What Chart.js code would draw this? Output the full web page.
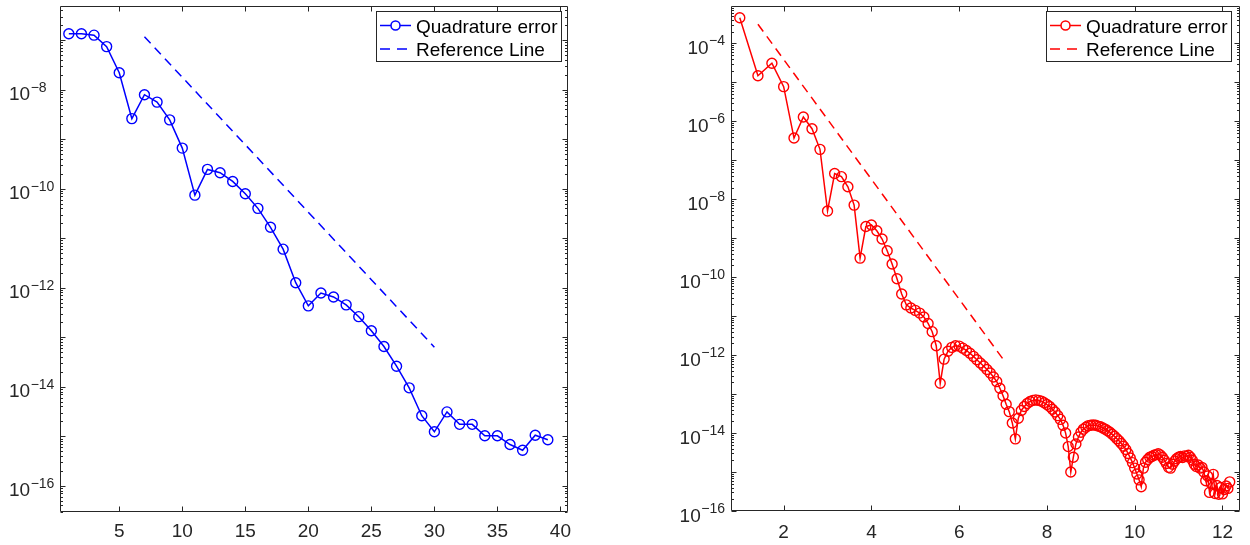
<!DOCTYPE html>
<html>
<head>
<meta charset="utf-8">
<script src="https://cdn.jsdelivr.net/npm/chart.js@4.4.1/dist/chart.umd.min.js"></script>
<style>
  html, body { margin: 0; padding: 0; background: #fff; }
  #wrap { position: relative; width: 1250px; height: 545px; }
  canvas { position: absolute; top: 0; }
  #left { left: 0; }
  #right { left: 625px; }
</style>
</head>
<body>
<div id="wrap">
  <canvas id="left" width="625" height="545"></canvas>
  <canvas id="right" width="625" height="545"></canvas>
</div>
<script>
// left panel: error vs n
const leftN = [1, 2, 3, 4, 5, 6, 7, 8, 9, 10, 11, 12, 13, 14, 15, 16, 17, 18, 19, 20,
  21, 22, 23, 24, 25, 26, 27, 28, 29, 30, 31, 32, 33, 34, 35, 36, 37, 38, 39];
const leftErr = [1.35e-7, 1.35e-7, 1.26e-7, 7.4e-8, 2.2e-8, 2.6e-9, 7.9e-9, 5.6e-9, 2.45e-9, 6.6e-10,
  7.4e-11, 2.45e-10, 2.1e-10, 1.4e-10, 7.9e-11, 4.0e-11, 1.66e-11, 6.0e-12, 1.26e-12, 4.3e-13,
  7.8e-13, 6.5e-13, 4.5e-13, 2.6e-13, 1.35e-13, 6.5e-14, 2.6e-14, 9.5e-15, 2.6e-15, 1.23e-15,
  3.1e-15, 1.74e-15, 1.74e-15, 1.02e-15, 1.02e-15, 6.8e-16, 5.2e-16, 1.05e-15, 8.5e-16];
const leftRefX = [7, 30];
const leftRefY = [1.17e-7, 6.3e-14];
const leftXTicks = [5, 10, 15, 20, 25, 30, 35, 40];
const leftYExps = [-16, -14, -12, -10, -8];

// right panel
const rightX = [1.000, 1.414, 1.732, 2.000, 2.236, 2.449, 2.646, 2.828, 3.000, 3.162,
  3.317, 3.464, 3.606, 3.742, 3.873, 4.000, 4.123, 4.243, 4.359, 4.472,
  4.583, 4.690, 4.796, 4.899, 5.000, 5.099, 5.196, 5.292, 5.385, 5.477,
  5.568, 5.657, 5.745, 5.831, 5.916, 6.000, 6.083, 6.164, 6.245, 6.325,
  6.403, 6.481, 6.557, 6.633, 6.708, 6.782, 6.856, 6.928, 7.000, 7.071,
  7.141, 7.211, 7.280, 7.348, 7.416, 7.483, 7.550, 7.616, 7.681, 7.746,
  7.810, 7.874, 7.937, 8.000, 8.062, 8.124, 8.185, 8.246, 8.307, 8.367,
  8.426, 8.485, 8.544, 8.602, 8.660, 8.718, 8.775, 8.832, 8.888, 8.944,
  9.000, 9.055, 9.110, 9.165, 9.220, 9.274, 9.327, 9.381, 9.434, 9.487,
  9.539, 9.592, 9.644, 9.695, 9.747, 9.798, 9.849, 9.899, 9.950, 10.000,
  10.050, 10.100, 10.149, 10.198, 10.247, 10.296, 10.344, 10.392, 10.440, 10.488,
  10.536, 10.583, 10.630, 10.677, 10.724, 10.770, 10.817, 10.863, 10.909, 10.954,
  11.000, 11.045, 11.091, 11.136, 11.180, 11.225, 11.269, 11.314, 11.358, 11.402,
  11.446, 11.489, 11.533, 11.576, 11.619, 11.662, 11.705, 11.747, 11.790, 11.832,
  11.874, 11.916, 11.958, 12.000, 12.042, 12.083, 12.124, 12.166];
const rightErr = [4.57e-4, 1.48e-5, 3.09e-5, 7.76e-6, 3.72e-7, 1.29e-6, 6.46e-7, 1.91e-7, 5.0e-9, 4.57e-8,
  3.8e-8, 2.09e-8, 7.08e-9, 3.09e-10, 2.0e-9, 2.19e-9, 1.55e-9, 9.55e-10, 4.79e-10, 2.19e-10,
  9.1e-11, 3.72e-11, 1.95e-11, 1.62e-11, 1.41e-11, 1.2e-11, 9.5e-12, 6.5e-12, 4.0e-12, 1.74e-12,
  1.9e-13, 7.9e-13, 1.26e-12, 1.58e-12, 1.74e-12, 1.7e-12, 1.51e-12, 1.32e-12, 1.12e-12, 9.3e-13,
  7.6e-13, 6.3e-13, 5.25e-13, 4.27e-13, 3.47e-13, 2.75e-13, 2.09e-13, 1.41e-13, 9.1e-14, 5.5e-14,
  3.55e-14, 1.82e-14, 7.1e-15, 2.4e-14, 3.8e-14, 4.79e-14, 5.75e-14, 6.46e-14, 6.9e-14, 7.1e-14,
  6.9e-14, 6.6e-14, 6.0e-14, 5.4e-14, 4.8e-14, 4.1e-14, 3.47e-14, 2.8e-14, 2.24e-14, 1.58e-14,
  1.0e-14, 4.5e-15, 1.0e-15, 2.4e-15, 5.25e-15, 7.9e-15, 1.05e-14, 1.26e-14, 1.41e-14, 1.55e-14,
  1.58e-14, 1.62e-14, 1.58e-14, 1.51e-14, 1.45e-14, 1.35e-14, 1.26e-14, 1.15e-14, 1.05e-14, 9.3e-15,
  8.3e-15, 7.2e-15, 6.3e-15, 5.4e-15, 4.6e-15, 3.8e-15, 3.0e-15, 2.3e-15, 1.74e-15, 1.26e-15,
  8.9e-16, 6.3e-16, 4.2e-16, 1.26e-15, 1.78e-15, 2.1e-15, 2.4e-15, 2.5e-15, 2.7e-15, 2.8e-15,
  2.95e-15, 2.75e-15, 2.4e-15, 2.0e-15, 1.66e-15, 1.32e-15, 1.26e-15, 1.58e-15, 1.9e-15, 2.2e-15,
  2.4e-15, 2.5e-15, 2.35e-15, 2.6e-15, 2.5e-15, 2.7e-15, 2.4e-15, 2.0e-15, 1.58e-15, 1.38e-15,
  1.51e-15, 1.26e-15, 1.32e-15, 1.0e-15, 6.0e-16, 7.9e-16, 3.0e-16, 5.0e-16, 8.7e-16, 2.8e-16,
  4.5e-16, 2.7e-16, 4.0e-16, 2.75e-16, 3.55e-16, 4.4e-16, 3.8e-16, 5.6e-16];
const rightRefX = [1.414, 7.0];
const rightRefY = [3.09e-4, 7.9e-13];
const rightXTicks = [2, 4, 6, 8, 10, 12];
const rightYExps = [-16, -14, -12, -10, -8, -6, -4];

const seriesNames = ['Quadrature error', 'Reference Line'];

const FONT = '"Liberation Sans", Arial, Helvetica, sans-serif';
const AXIS_COL = '#262626';

function pts(xs, ys) {
  return xs.map((x, i) => ({ x: x, y: ys[i] }));
}

// matlab-ish box, inward ticks, 10^n labels and legend
const matlabAxes = {
  id: 'matlabAxes',
  afterDatasetsDraw(chart, args, o) {
    const ctx = chart.ctx;
    const a = chart.chartArea;
    const x = chart.scales.x, y = chart.scales.y;
    const L = Math.round(a.left) + 0.5, R = Math.round(a.right) - 0.5;
    const T = Math.round(a.top) + 0.5, B = Math.round(a.bottom) - 0.5;
    ctx.save();
    ctx.strokeStyle = AXIS_COL;
    ctx.lineWidth = 1;
    ctx.beginPath();
    ctx.rect(L, T, R - L, B - T);
    o.xTicks.forEach(v => {
      const px = Math.round(x.getPixelForValue(v)) + 0.5;
      ctx.moveTo(px, B); ctx.lineTo(px, B - 5);
      ctx.moveTo(px, T); ctx.lineTo(px, T + 5);
    });
    const e0 = Math.floor(Math.log10(y.min)), e1 = Math.ceil(Math.log10(y.max));
    for (let e = e0; e <= e1; e++) {
      for (let k = 1; k < 10; k++) {
        const v = k * Math.pow(10, e);
        if (v < y.min || v > y.max) continue;
        const py = Math.round(y.getPixelForValue(v)) + 0.5;
        const len = k === 1 ? 5 : 2.5;
        ctx.moveTo(L, py); ctx.lineTo(L + len, py);
        ctx.moveTo(R, py); ctx.lineTo(R - len, py);
      }
    }
    ctx.stroke();

    // tick labels
    ctx.fillStyle = AXIS_COL;
    ctx.textBaseline = 'alphabetic';
    ctx.font = '19px ' + FONT;
    ctx.textAlign = 'center';
    o.xTicks.forEach(v => ctx.fillText(String(v), x.getPixelForValue(v), o.xLabelBase));
    ctx.textAlign = 'left';
    o.yExps.forEach(e => {
      const py = y.getPixelForValue(Math.pow(10, e));
      const sup = '\u2212' + String(Math.abs(e));
      ctx.font = '19px ' + FONT;
      const w10 = ctx.measureText('10').width + 0.5;
      ctx.font = '14px ' + FONT;
      const ws = ctx.measureText(sup).width;
      const x0 = o.yLabelAlign === 'left' ? o.yLabelX : o.yLabelX - ws - w10;
      ctx.font = '19px ' + FONT;
      ctx.fillText('10', x0, py + 10.5);
      ctx.font = '14px ' + FONT;
      ctx.fillText(sup, x0 + w10, py + 2);
    });

    // legend
    const lg = o.legend;
    ctx.fillStyle = '#fff';
    ctx.fillRect(lg.x, lg.y, lg.w, lg.h);
    ctx.strokeStyle = AXIS_COL;
    ctx.lineWidth = 1;
    ctx.strokeRect(lg.x + 0.5, lg.y + 0.5, lg.w, lg.h);
    chart.data.datasets.forEach((ds, i) => {
      const cy = lg.y + 14.5 + i * 23.5;
      const sx = lg.x + 4, ex = lg.x + 35;
      ctx.strokeStyle = ds.borderColor;
      ctx.lineWidth = 1.5;
      ctx.setLineDash(ds.borderDash ? [10, 7] : []);
      ctx.beginPath();
      ctx.moveTo(sx, cy); ctx.lineTo(ex, cy);
      ctx.stroke();
      ctx.setLineDash([]);
      if (ds.pointRadius > 0) {
        ctx.beginPath();
        ctx.arc((sx + ex) / 2, cy, 4.5, 0, Math.PI * 2);
        ctx.fillStyle = '#fff';
        ctx.fill();
        ctx.stroke();
      }
      ctx.fillStyle = '#000';
      ctx.font = '19px ' + FONT;
      ctx.textAlign = 'left';
      ctx.fillText(ds.label, lg.x + 40, cy + 7);
    });
    ctx.restore();
  }
};

function makeChart(id, color, errX, errY, refX, refY, xr, yr, pad, axesOpts) {
  return new Chart(document.getElementById(id), {
    type: 'line',
    data: {
      datasets: [{
        label: seriesNames[0],
        data: pts(errX, errY),
        borderColor: color,
        borderWidth: 1.5,
        pointRadius: 5,
        pointBorderWidth: 1.4,
        pointBackgroundColor: 'rgba(0,0,0,0)',
        pointBorderColor: color,
        tension: 0
      }, {
        label: seriesNames[1],
        data: pts(refX, refY),
        borderColor: color,
        borderWidth: 1.5,
        borderDash: [9, 6],
        pointRadius: 0
      }]
    },
    options: {
      responsive: false,
      animation: false,
      events: [],
      layout: { padding: pad },
      plugins: {
        legend: { display: false },
        tooltip: { enabled: false },
        matlabAxes: axesOpts
      },
      scales: {
        x: { type: 'linear', display: false, min: xr[0], max: xr[1], bounds: 'data' },
        y: { type: 'logarithmic', display: false, min: yr[0], max: yr[1], bounds: 'data' }
      }
    },
    plugins: [matlabAxes]
  });
}

makeChart('left', '#0000ff', leftN, leftErr, leftRefX, leftRefY,
  [0.3, 40.6], [2.95e-17, 4.8e-7],
  { left: 60, top: 3, right: 57, bottom: 33 },
  { xTicks: leftXTicks, yExps: leftYExps, xLabelBase: 537, yLabelAlign: 'left', yLabelX: 9,
    legend: { x: 376, y: 11, w: 185, h: 50 } });

makeChart('right', '#ff0000', rightX, rightErr, rightRefX, rightRefY,
  [0.8, 12.4], [1e-16, 8.9e-4],
  { left: 106, top: 3, right: 10, bottom: 34 },
  { xTicks: rightXTicks, yExps: rightYExps, xLabelBase: 538, yLabelAlign: 'right', yLabelX: 100,
    legend: { x: 421, y: 11, w: 185, h: 50 } });
</script>
</body>
</html>
